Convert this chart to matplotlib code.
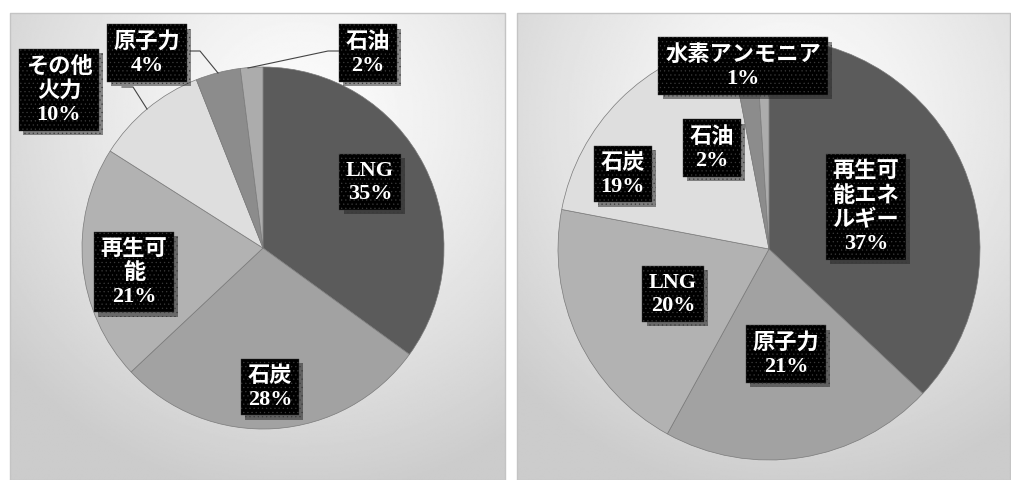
import numpy as np
import matplotlib.pyplot as plt
import matplotlib.patheffects as pe

plt.rcParams['hatch.linewidth'] = 0.4

# left chart: current power mix
left_names = ['LNG', '石炭', '再生可\n能', 'その他\n火力', '原子力', '石油']
left_values = [35, 28, 21, 10, 4, 2]
left_colors = ['#5b5b5b', '#a2a2a2', '#b2b2b2', '#dedede', '#8c8c8c', '#acacac']

# right chart: target power mix
right_names = ['再生可\n能エネ\nルギー', '原子力', 'LNG', '石炭', '石油', '水素アンモニア']
right_values = [37, 21, 20, 19, 2, 1]
right_colors = ['#5b5b5b', '#a2a2a2', '#b2b2b2', '#dedede', '#8c8c8c', '#acacac']

# label box centres in pixel coords (x, y from top)
left_label_pos = [(370, 183), (270, 388), (134, 273), (59, 91), (147, 54), (368, 54)]
right_label_pos = [(866, 208), (786, 355), (673, 295), (623, 175), (712, 149), (743, 67)]

W, H = 1011, 481
fig = plt.figure(figsize=(W / 100, H / 100), dpi=100)
fig.patch.set_facecolor('white')

# background panels with radial gradient
bg = fig.add_axes([0, 0, 1, 1], zorder=0)
bg.set_xlim(0, W)
bg.set_ylim(H, 0)
bg.axis('off')


def panel(x0, x1, cx, cy):
    xs = np.linspace(x0, x1, 300)
    ys = np.linspace(14, H, 300)
    X, Y = np.meshgrid(xs, ys)
    r = np.hypot((X - cx) / 330, (Y - cy) / 330)
    v = np.clip(0.99 - 0.16 * r ** 1.3, 0.80, 1)
    bg.imshow(v, cmap='gray', vmin=0, vmax=1, extent=(x0, x1, H, 14),
              aspect='auto', interpolation='bilinear')
    bg.plot([x0, x1, x1, x0, x0], [H, H, 14, 14, H], color='#c4c4c4', lw=1)


panel(10, 505, 300, 120)
panel(517, 1010, 790, 120)


def draw_pie(cx, cy, rad, values, colors):
    ax = fig.add_axes([(cx - rad) / W, (H - cy - rad) / H, 2 * rad / W, 2 * rad / H], zorder=2)
    ax.pie(values, colors=colors, startangle=90, counterclock=False,
           wedgeprops=dict(edgecolor='#7a7a7a', linewidth=0.5))
    ax.set_xlim(-1, 1)
    ax.set_ylim(-1, 1)
    ax.set_aspect('auto')
    ax.axis('off')


draw_pie(263, 249, 181, left_values, left_colors)
draw_pie(769, 250, 211, right_values, right_colors)

top = fig.add_axes([0, 0, 1, 1], zorder=5)
top.set_xlim(0, W)
top.set_ylim(H, 0)
top.axis('off')
top.patch.set_alpha(0)

# leader lines on the left chart
top.plot([190, 200, 218], [52, 52, 74], color='#444444', lw=0.8)
top.plot([339, 328, 248], [52, 52, 69], color='#444444', lw=0.8)
top.plot([122, 133, 147], [88, 88, 110], color='#444444', lw=0.8)

fam = ['Liberation Serif', 'Noto Sans CJK JP']


def label(x, y, name, val):
    t = top.text(x, y, f'{name}\n{val}%', ha='center', va='center', fontsize=16,
                 family=fam, weight='bold', color='white', linespacing=1.2,
                 bbox=dict(boxstyle='square,pad=0.3', fc='black', ec='#3a3a3a',
                           hatch='....', lw=0.3))
    t.get_bbox_patch().set_path_effects(
        [pe.SimplePatchShadow(offset=(3, -3), shadow_rgbFace='#222222', alpha=0.5),
         pe.Normal()])


for (x, y), n, v in zip(left_label_pos, left_names, left_values):
    label(x, y, n, v)
for (x, y), n, v in zip(right_label_pos, right_names, right_values):
    label(x, y, n, v)

fig.savefig('out.png', dpi=100)
